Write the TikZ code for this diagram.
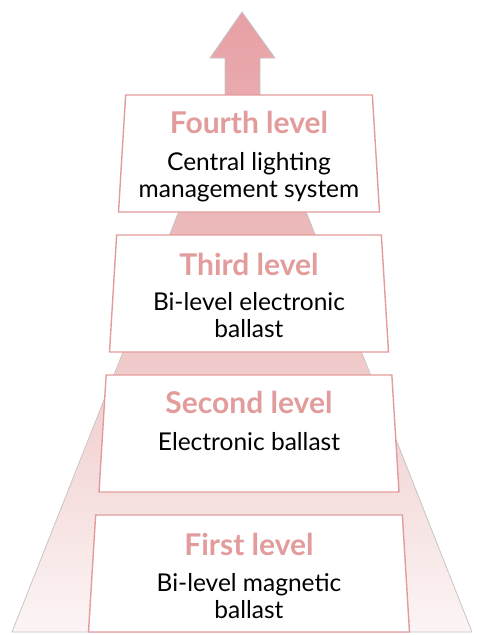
\documentclass[tikz,border=0pt]{standalone}
\usepackage{fontspec}
\setmainfont{Lato}
\usetikzlibrary{shapes.geometric}
\definecolor{rosa}{HTML}{E39C9C}
\definecolor{rosadark}{HTML}{E7A0A6}
\definecolor{rosalight}{HTML}{FCF5F5}
\tikzset{
    levelbox/.style={
    trapezium,trapezium angle=72,trapezium stretches body=true,draw=rosa,line width=1.4pt,fill=white,minimum height=117pt,inner sep=5pt
    },
    leveltitle/.style={
    anchor=base,text=rosa,font=\fontsize{30}{32}\selectfont\bfseries
    },
    leveltext/.style={
    anchor=base,align=center,font=\fontsize{24.5}{27}\selectfont
    },
}
\begin{document}
\begin{tikzpicture}[x=1pt,y=-1pt]
   \useasboundingbox (0,0) rectangle (477,635);

   %arrow and pyramid behind the boxes
   \path[top color=rosadark,bottom color=rosalight,middle color=rosa!60!white,draw=gray!45,line width=0.8pt]
     (242,12) -- (275,58) -- (260,58) -- (260,95) -- (472,632) -- (12,632) -- (225,95) -- (225,58) -- (210,58) -- cycle;

   %fourth level
   \node[levelbox,minimum width=261pt] (b4) at (249,153.5) {\strut};
   \node[leveltitle] (t4) at (249,133) {Fourth level};
   \node[leveltext] (d4) at (249,197) {Central lighting\\management system};

   %third level
   \node[levelbox,minimum width=279pt] (b3) at (249,293.5) {\strut};
   \node[leveltitle] (t3) at (249,275) {Third level};
   \node[leveltext] (d3) at (249,337) {Bi-level electronic\\ballast};

   %second level
   \node[levelbox,minimum width=300pt] (b2) at (249,433.5) {\strut};
   \node[leveltitle] (t2) at (249,413) {Second level};
   \node[leveltext] (d2) at (249,450) {Electronic ballast};

   %first level
   \node[levelbox,minimum width=321pt] (b1) at (249,573.5) {\strut};
   \node[leveltitle] (t1) at (249,555) {First level};
   \node[leveltext] (d1) at (249,618) {Bi-level magnetic\\ballast};
\end{tikzpicture}
\end{document}
